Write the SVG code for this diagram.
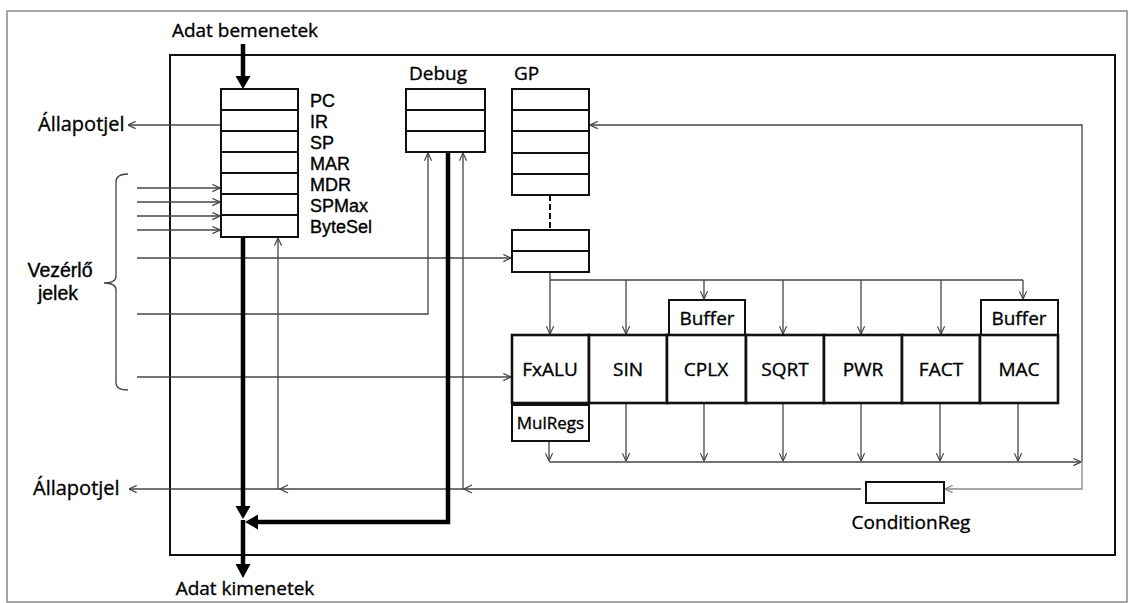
<svg xmlns="http://www.w3.org/2000/svg" width="1134" height="603" viewBox="0 0 1134 603">
<defs>
<style>
.t{font-family:"Open Sans","Liberation Sans",sans-serif;font-size:19px;fill:#000;stroke:#000;stroke-width:0.35}
.tm{text-anchor:middle}
.rl{font-family:"Liberation Sans",Arial,sans-serif;font-size:18px}
.vl{font-family:"Liberation Sans",Arial,sans-serif;font-size:19.5px}
.box{fill:#fff;stroke:#111;stroke-width:2}
.fu{fill:#fff;stroke:#111;stroke-width:2.6}
.row{stroke:#111;stroke-width:2}
.c{fill:none;stroke:#444;stroke-width:1.3}
.cl{fill:none;stroke:#888;stroke-width:1.3}
.k{fill:none;stroke:#000;stroke-width:4.5}
.kh{fill:#000}
</style>
<marker id="oa" viewBox="0 0 10 10" refX="9.5" refY="5" markerWidth="9" markerHeight="9" markerUnits="userSpaceOnUse" orient="auto">
<path d="M1,1 L9.5,5 L1,9" fill="none" stroke="#444" stroke-width="1.3"/>
</marker>
<marker id="oal" viewBox="0 0 10 10" refX="9.5" refY="5" markerWidth="9" markerHeight="9" markerUnits="userSpaceOnUse" orient="auto">
<path d="M1,1 L9.5,5 L1,9" fill="none" stroke="#888" stroke-width="1.3"/>
</marker>
</defs>
<rect width="1134" height="603" fill="#fff"/>
<rect x="7" y="11" width="1120" height="591" fill="none" stroke="#888" stroke-width="1.5"/>
<rect id="container" x="170" y="55" width="945" height="500" fill="none" stroke="#111" stroke-width="2"/>

<g id="connectors">
<line class="c" x1="137" y1="188" x2="220" y2="188" marker-end="url(#oa)"/>
<line class="c" x1="137" y1="202" x2="220" y2="202" marker-end="url(#oa)"/>
<line class="c" x1="137" y1="216" x2="220" y2="216" marker-end="url(#oa)"/>
<line class="c" x1="137" y1="230" x2="220" y2="230" marker-end="url(#oa)"/>
<line class="c" x1="137" y1="258" x2="511" y2="258" marker-end="url(#oa)"/>
<path class="c" d="M137,314 H428 V153" marker-end="url(#oa)"/>
<line class="c" x1="137" y1="377" x2="511" y2="377" marker-end="url(#oa)"/>
<line class="c" x1="221" y1="125" x2="128" y2="125" marker-end="url(#oa)"/>
<line class="c" x1="550" y1="272" x2="550" y2="334" marker-end="url(#oa)"/>
<line class="c" x1="550" y1="280" x2="1023" y2="280"/>
<line class="c" x1="626" y1="280" x2="626" y2="334" marker-end="url(#oa)"/>
<line class="c" x1="704" y1="280" x2="704" y2="299" marker-end="url(#oa)"/>
<line class="c" x1="783" y1="280" x2="783" y2="334" marker-end="url(#oa)"/>
<line class="c" x1="861" y1="280" x2="861" y2="334" marker-end="url(#oa)"/>
<line class="c" x1="941" y1="280" x2="941" y2="334" marker-end="url(#oa)"/>
<line class="c" x1="1023" y1="280" x2="1023" y2="299" marker-end="url(#oa)"/>
<line class="c" x1="549" y1="441" x2="549" y2="461" marker-end="url(#oa)"/>
<line class="c" x1="626" y1="403" x2="626" y2="461" marker-end="url(#oa)"/>
<line class="c" x1="704" y1="403" x2="704" y2="461" marker-end="url(#oa)"/>
<line class="c" x1="783" y1="403" x2="783" y2="461" marker-end="url(#oa)"/>
<line class="c" x1="861" y1="403" x2="861" y2="461" marker-end="url(#oa)"/>
<line class="c" x1="940" y1="403" x2="940" y2="461" marker-end="url(#oa)"/>
<line class="c" x1="1018" y1="403" x2="1018" y2="461" marker-end="url(#oa)"/>
<line class="c" x1="549" y1="462" x2="1081" y2="462" marker-end="url(#oa)"/>
<path class="c" d="M1082,462 V125 H590" marker-end="url(#oa)"/>
<path class="cl" d="M1082,462 V489 H945" marker-end="url(#oal)"/>
<line class="c" x1="861" y1="489" x2="129" y2="489" marker-end="url(#oa)"/>
<path class="c" d="M472,485 L464,489 L472,493"/>
<path class="c" d="M288,485 L280,489 L288,493"/>
<line class="c" x1="463" y1="489" x2="463" y2="153" marker-end="url(#oa)"/>
<line class="c" x1="278" y1="489" x2="278" y2="238" marker-end="url(#oa)"/>
<line x1="550" y1="195" x2="550" y2="230" stroke="#111" stroke-width="2" stroke-dasharray="6,3"/>
<path class="c" d="M128,174 Q116,174 116,182 L116,276 Q116,283 104,283 Q116,283 116,290 L116,383 Q116,390 128,390"/>
<line class="k" x1="243" y1="44" x2="243" y2="78"/>
<polygon class="kh" points="235.5,76 250.5,76 243,89"/>
<line class="k" x1="243" y1="237" x2="243" y2="508"/>
<polygon class="kh" points="235.5,506 250.5,506 243,519"/>
<path class="k" d="M448,152 V522 H256"/>
<polygon class="kh" points="258,514.5 258,529.5 245,522"/>
<line class="k" x1="243" y1="520" x2="243" y2="566"/>
<polygon class="kh" points="235.5,564 250.5,564 243,578"/>
</g>

<g id="reg-main">
<rect class="box" x="221" y="89" width="77" height="148"/>
<path class="row" d="M221,110H298M221,131H298M221,152H298M221,173H298M221,194H298M221,215H298"/>
<text class="t rl" x="310" y="107">PC</text>
<text class="t rl" x="310" y="128">IR</text>
<text class="t rl" x="310" y="149">SP</text>
<text class="t rl" x="310" y="170">MAR</text>
<text class="t rl" x="310" y="191">MDR</text>
<text class="t rl" x="310" y="212">SPMax</text>
<text class="t rl" x="310" y="233">ByteSel</text>
</g>
<g id="debug">
<rect class="box" x="406" y="89" width="79" height="63"/>
<path class="row" d="M406,110H485M406,131H485"/>
<text class="t" x="409" y="80">Debug</text>
</g>
<g id="gp">
<rect class="box" x="512" y="89" width="77" height="106"/>
<path class="row" d="M512,110H589M512,131H589M512,153H589M512,174H589"/>
<text class="t" x="514" y="80">GP</text>
</g>
<g id="gp-lower">
<rect class="box" x="512" y="230" width="77" height="42"/>
<path class="row" d="M512,251H589"/>
</g>
<g id="buffer-cplx">
<rect class="box" x="669" y="300" width="76" height="35"/>
<text class="t tm" x="707" y="325">Buffer</text>
</g>
<g id="buffer-mac">
<rect class="box" x="981" y="300" width="77" height="35"/>
<text class="t tm" x="1019" y="325">Buffer</text>
</g>
<g id="fu-fxalu"><rect class="fu" x="512" y="335" width="77" height="68"/><text class="t tm" x="550" y="376">FxALU</text></g>
<g id="fu-sin"><rect class="fu" x="589" y="335" width="78" height="68"/><text class="t tm" x="628" y="376">SIN</text></g>
<g id="fu-cplx"><rect class="fu" x="667" y="335" width="79" height="68"/><text class="t tm" x="706" y="376">CPLX</text></g>
<g id="fu-sqrt"><rect class="fu" x="746" y="335" width="78" height="68"/><text class="t tm" x="785" y="376">SQRT</text></g>
<g id="fu-pwr"><rect class="fu" x="824" y="335" width="78" height="68"/><text class="t tm" x="863" y="376">PWR</text></g>
<g id="fu-fact"><rect class="fu" x="902" y="335" width="78" height="68"/><text class="t tm" x="941" y="376">FACT</text></g>
<g id="fu-mac"><rect class="fu" x="980" y="335" width="78" height="68"/><text class="t tm" x="1019" y="376">MAC</text></g>
<g id="mulregs">
<rect class="box" x="512" y="405" width="77" height="36"/>
<text class="t tm" x="550.5" y="429" style="font-size:17px">MulRegs</text>
</g>
<g id="condreg">
<rect class="box" x="866" y="482" width="78" height="21"/>
<text class="t tm" x="911" y="529">ConditionReg</text>
</g>
<g id="labels">
<text class="t tm" x="245" y="37">Adat bemenetek</text>
<text class="t tm" x="245" y="595">Adat kimenetek</text>
<text class="t" x="38" y="131" style="font-size:20px">Állapotjel</text>
<text class="t" x="33" y="495" style="font-size:20px">Állapotjel</text>
<text class="t tm vl" x="60" y="277">Vezérlő</text>
<text class="t tm vl" x="58" y="300">jelek</text>
</g>
</svg>
